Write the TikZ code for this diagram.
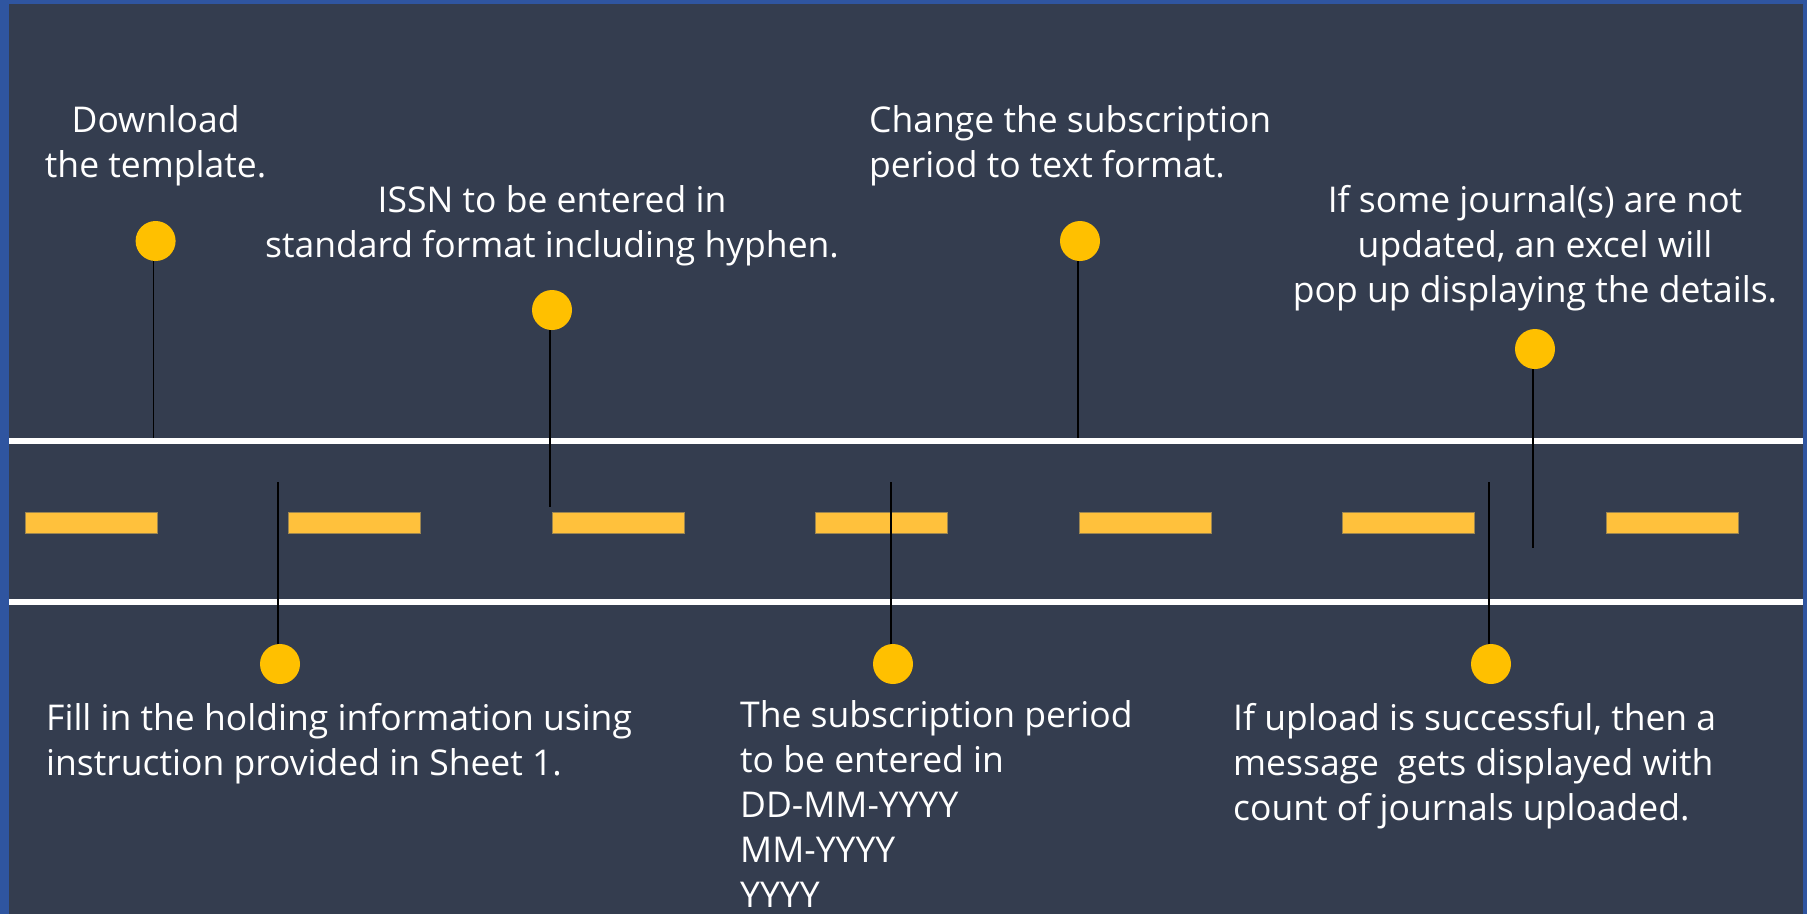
\documentclass[tikz,border=0pt]{standalone}
\usepackage{fontspec}
\setmainfont{Open Sans}
\definecolor{borderblue}{HTML}{2F55A0}
\definecolor{bgslate}{HTML}{343D4F}
\definecolor{dotyellow}{HTML}{FFC000}
\definecolor{dashyellow}{HTML}{FFC13C}
\definecolor{dashedge}{HTML}{9C8550}
\begin{document}
\begin{tikzpicture}[x=1pt,y=-1pt,
  dot/.style={circle,fill=dotyellow,minimum size=40pt,inner sep=0pt},
  conn/.style={line width=1.5pt,black},
  lbl/.style={text=white,font=\fontsize{35.5}{45}\selectfont,inner sep=0pt},
  road/.style={white,line width=6pt},
  dashbar/.style={fill=dashyellow,draw=dashedge,line width=0.8pt}]
\useasboundingbox (0,0) rectangle (1807,914);
\fill[borderblue] (0,0) rectangle (1807,914);
\fill[bgslate] (9,4) rectangle (1803,914);
% road
\draw[road] (9,441) -- (1803,441);
\draw[road] (9,602) -- (1803,602);
\foreach \i in {0,...,6}
  \draw[dashbar] ({25+263.5*\i},512) rectangle ++(132,21);
% dots
\node[dot] (d1) at (155.6,241) {};
\node[dot] (d2) at (552,310) {};
\node[dot] (d3) at (1080,241) {};
\node[dot] (d4) at (1535,349) {};
\node[dot] (d5) at (280,664) {};
\node[dot] (d6) at (893,664) {};
\node[dot] (d7) at (1491,664) {};
% connector ends (lines sit slightly left of the dot centres)
\coordinate (e1) at (153.6,438);
\coordinate (e2) at (550,507);
\coordinate (e3) at (1078,438);
\coordinate (e4) at (1533,548);
\coordinate (e5) at (278,482);
\coordinate (e6) at (891,482);
\coordinate (e7) at (1489,482);
\foreach \k in {1,2,3,4} \draw[conn] ([xshift=-2pt]d\k.south) -- (e\k);
\foreach \k in {5,6,7} \draw[conn] ([xshift=-2pt]d\k.north) -- (e\k);
% labels (base anchor = baseline of the last line)
\node[lbl,anchor=base,align=center] (t1) at (155.6,177) {Download\\the template.};
\node[lbl,anchor=base,align=center] (t2) at (552,257) {ISSN to be entered in\\standard format including hyphen.};
\node[lbl,anchor=base west,align=left] (t3) at (869,177) {Change the subscription\\period to text format.};
\node[lbl,anchor=base,align=center] (t4) at (1535,302) {If some journal(s) are not\\updated, an excel will\\pop up displaying the details.};
\node[lbl,anchor=base west,align=left] (t5) at (46,775) {Fill in the holding information using\\instruction provided in Sheet 1.};
\node[lbl,anchor=base west,align=left] (t6) at (740,907) {The subscription period\\to be entered in\\DD-MM-YYYY\\MM-YYYY\\YYYY};
\node[lbl,anchor=base west,align=left] (t7) at (1233,820) {If upload is successful, then a\\message\ \ gets displayed with\\count of journals uploaded.};
\end{tikzpicture}
\end{document}
